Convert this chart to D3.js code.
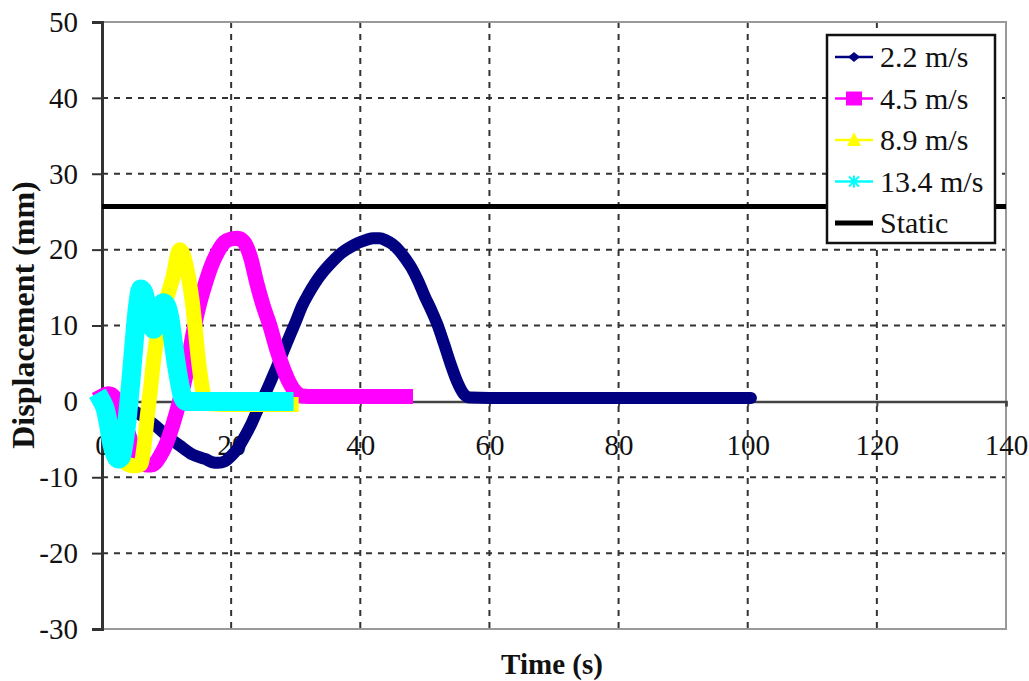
<!DOCTYPE html>
<html>
<head>
<meta charset="utf-8">
<script src="https://cdn.jsdelivr.net/npm/d3@7"></script>
<style>
  body { margin: 0; background: #fff; }
  svg { display: block; }
  text { font-family: "Liberation Serif", "Times New Roman", serif; fill: #111; }
</style>
</head>
<body>
<svg id="chart" width="1029" height="681"></svg>
<script>
// Axis ticks
const xTicks = [0, 20, 40, 60, 80, 100, 120, 140];
const yTicks = [-30, -20, -10, 0, 10, 20, 30, 40, 50];

// Legend entries
const seriesNames = ["2.2 m/s", "4.5 m/s", "8.9 m/s", "13.4 m/s", "Static"];

// Displacement histories: time (s) and displacement (mm)
const time22 = [0, 2, 4, 6, 8, 10, 12, 14, 16, 17, 18, 19, 20, 21, 22, 23, 24, 25, 26, 27, 28, 29, 30, 31, 32, 33, 34, 35, 36, 37, 38, 39, 40, 41, 42, 43, 44, 45, 46, 47, 48, 49, 50, 51, 52, 53, 54, 55, 56, 57, 60, 70, 80, 90, 100.5];
const disp22 = [0, -0.3, -0.8, -1.8, -3, -4.5, -5.8, -7, -7.6, -8, -8.1, -7.9, -7.2, -6.2, -4.8, -3.2, -1.3, 0.5, 2.4, 4.4, 6.4, 8.5, 10.5, 12.6, 14.2, 15.6, 16.8, 17.8, 18.7, 19.5, 20.1, 20.6, 21, 21.3, 21.5, 21.5, 21.2, 20.7, 19.9, 18.8, 17.5, 15.8, 13.8, 12, 10, 7.5, 4.9, 2.6, 1, 0.5, 0.45, 0.45, 0.45, 0.45, 0.45];

const time45 = [0, 1, 2, 3, 4, 5, 6, 7, 8, 9, 10, 11, 12, 13, 14, 15, 16, 17, 18, 19, 20, 21, 22, 23, 24, 25, 26, 27, 28, 29, 30, 31, 32, 40, 47];
const disp45 = [0.7, 1.0, 0.5, -1.5, -4, -6.5, -8, -8.4, -8.3, -7.2, -5.5, -3, 0, 3.5, 8.5, 12.5, 15.5, 18, 19.8, 21, 21.4, 21.5, 21, 19, 15.5, 12.5, 10, 7, 4.5, 2.5, 1.2, 0.7, 0.65, 0.65, 0.65];

const time89 = [0, 1, 2, 3, 4, 5, 6, 6.5, 7, 7.5, 8, 9, 10, 11, 12, 12.5, 13, 14, 15, 15.7, 16.5, 20, 29.3];
const disp89 = [0, -2.5, -5.5, -7.5, -8.3, -8.5, -8.3, -6, -2, 1.5, 5.5, 10.5, 13.5, 16.4, 20, 19.5, 18, 13, 5, 1, -0.3, -0.4, -0.4];

const time134 = [0, 0.5, 1, 1.5, 2, 2.5, 3, 3.5, 4, 4.5, 5, 5.5, 6, 6.5, 7, 7.5, 8, 8.5, 9, 9.5, 10, 10.5, 11, 11.5, 12, 12.5, 13, 20, 28.2];
const disp134 = [0, -1, -3, -5.5, -7, -7.6, -7.3, -5, -1.5, 3, 8, 12.5, 14.8, 14.3, 12.5, 10.5, 9.5, 10.5, 12.2, 13, 12.6, 11, 8, 5, 2.5, 0.5, 0, 0, 0];

const staticDisp = 25.7;

const series = [
  { name: seriesNames[0], t: time22, d: disp22, color: "#000080", width: 12, cap: "round", marker: "diamond" },
  { name: seriesNames[1], t: time45, d: disp45, color: "#FF00FF", width: 15, cap: "square", marker: "square" },
  { name: seriesNames[2], t: time89, d: disp89, color: "#FFFF00", width: 15, cap: "square", marker: "triangle" },
  { name: seriesNames[3], t: time134, d: disp134, color: "#00FFFF", width: 19, cap: "square", marker: "cross" }
];

const svg = d3.select("#chart");
const x = d3.scaleLinear().domain([0, 140]).range([102, 1006]);
const y = d3.scaleLinear().domain([-30, 50]).range([629, 22]);
const plain = d => String(d);

// Dashed grid
const grid = svg.append("g");
grid.selectAll("line.h")
  .data(yTicks.filter(v => v !== -30 && v !== 0 && v !== 50))
  .join("line")
  .attr("x1", x(0)).attr("x2", x(140))
  .attr("y1", d => y(d)).attr("y2", d => y(d))
  .attr("stroke", "#333").attr("stroke-width", 2).attr("stroke-dasharray", "6,6");
grid.selectAll("line.v")
  .data(xTicks.filter(v => v !== 0 && v !== 140))
  .join("line")
  .attr("x1", d => x(d)).attr("x2", d => x(d))
  .attr("y1", y(50)).attr("y2", y(-30))
  .attr("stroke", "#333").attr("stroke-width", 2).attr("stroke-dasharray", "6,6");

// Plot frame (top, right, bottom)
svg.append("path")
  .attr("d", `M${x(0)},${y(50)}H${x(140)}V${y(-30)}H${x(0)}`)
  .attr("fill", "none").attr("stroke", "#999").attr("stroke-width", 2);

// Y axis
const yAxis = svg.append("g")
  .attr("transform", `translate(${x(0)},0)`)
  .call(d3.axisLeft(y).tickValues(yTicks).tickSize(10).tickPadding(14).tickFormat(plain));
yAxis.select(".domain").attr("stroke", "#333").attr("stroke-width", 3);
yAxis.selectAll(".tick line").attr("stroke", "#333").attr("stroke-width", 2);
yAxis.selectAll(".tick text").attr("font-size", 29).attr("font-family", "Liberation Serif").attr("fill", "#111");

// X axis along zero displacement
const xAxis = svg.append("g")
  .attr("transform", `translate(0,${y(0)})`)
  .call(d3.axisBottom(x).tickValues(xTicks).tickSize(5).tickPadding(28).tickFormat(plain));
xAxis.select(".domain").attr("stroke", "#444").attr("stroke-width", 2.5);
xAxis.selectAll(".tick line").attr("stroke", "#444").attr("stroke-width", 2);
xAxis.selectAll(".tick text").attr("font-size", 29).attr("font-family", "Liberation Serif").attr("fill", "#111");

// Series curves
const line = d3.line().curve(d3.curveMonotoneX);
const plot = svg.append("g");
series.forEach(s => {
  const pts = s.t.map((t, i) => [x(t), y(s.d[i])]);
  plot.append("path")
    .attr("d", line(pts))
    .attr("fill", "none")
    .attr("stroke", s.color)
    .attr("stroke-width", s.width)
    .attr("stroke-linejoin", "round")
    .attr("stroke-linecap", s.cap);
});

// Static displacement
plot.append("line")
  .attr("x1", x(0)).attr("x2", x(140))
  .attr("y1", y(staticDisp)).attr("y2", y(staticDisp))
  .attr("stroke", "#000").attr("stroke-width", 5);

// Axis titles
svg.append("text")
  .attr("x", 552).attr("y", 674)
  .attr("text-anchor", "middle")
  .attr("font-size", 29).attr("font-weight", "bold")
  .text("Time (s)");
svg.append("text")
  .attr("transform", "translate(34,315) rotate(-90)")
  .attr("text-anchor", "middle")
  .attr("font-size", 32).attr("font-weight", "bold")
  .text("Displacement (mm)");

// Legend
const legend = svg.append("g");
legend.append("rect")
  .attr("x", 827).attr("y", 35).attr("width", 168).attr("height", 208)
  .attr("fill", "#fff").attr("stroke", "#111").attr("stroke-width", 2.5);
const rowY = i => 57 + i * 41.5;
series.forEach((s, i) => {
  const g = legend.append("g").attr("transform", `translate(0,${rowY(i)})`);
  g.append("line").attr("x1", 835).attr("x2", 873).attr("y1", 0).attr("y2", 0)
    .attr("stroke", s.color).attr("stroke-width", 2.5);
  const cx = 854;
  if (s.marker === "diamond") {
    g.append("path").attr("d", `M${cx},-5L${cx + 6},0L${cx},5L${cx - 6},0Z`).attr("fill", s.color);
  } else if (s.marker === "square") {
    g.append("rect").attr("x", cx - 8).attr("y", -7).attr("width", 16).attr("height", 14).attr("fill", s.color);
  } else if (s.marker === "triangle") {
    g.append("path").attr("d", `M${cx},-8L${cx + 7},6L${cx - 7},6Z`).attr("fill", s.color);
  } else {
    g.append("path").attr("d", `M${cx - 5},-5L${cx + 5},5M${cx - 5},5L${cx + 5},-5M${cx},-6V6`)
      .attr("stroke", s.color).attr("stroke-width", 2);
  }
  g.append("text").attr("x", 880).attr("y", 10).attr("font-size", 30).text(s.name);
});
const sg = legend.append("g").attr("transform", `translate(0,${rowY(4)})`);
sg.append("line").attr("x1", 835).attr("x2", 873).attr("y1", 0).attr("y2", 0)
  .attr("stroke", "#000").attr("stroke-width", 5);
sg.append("text").attr("x", 880).attr("y", 10).attr("font-size", 30).text(seriesNames[4]);
</script>
</body>
</html>
